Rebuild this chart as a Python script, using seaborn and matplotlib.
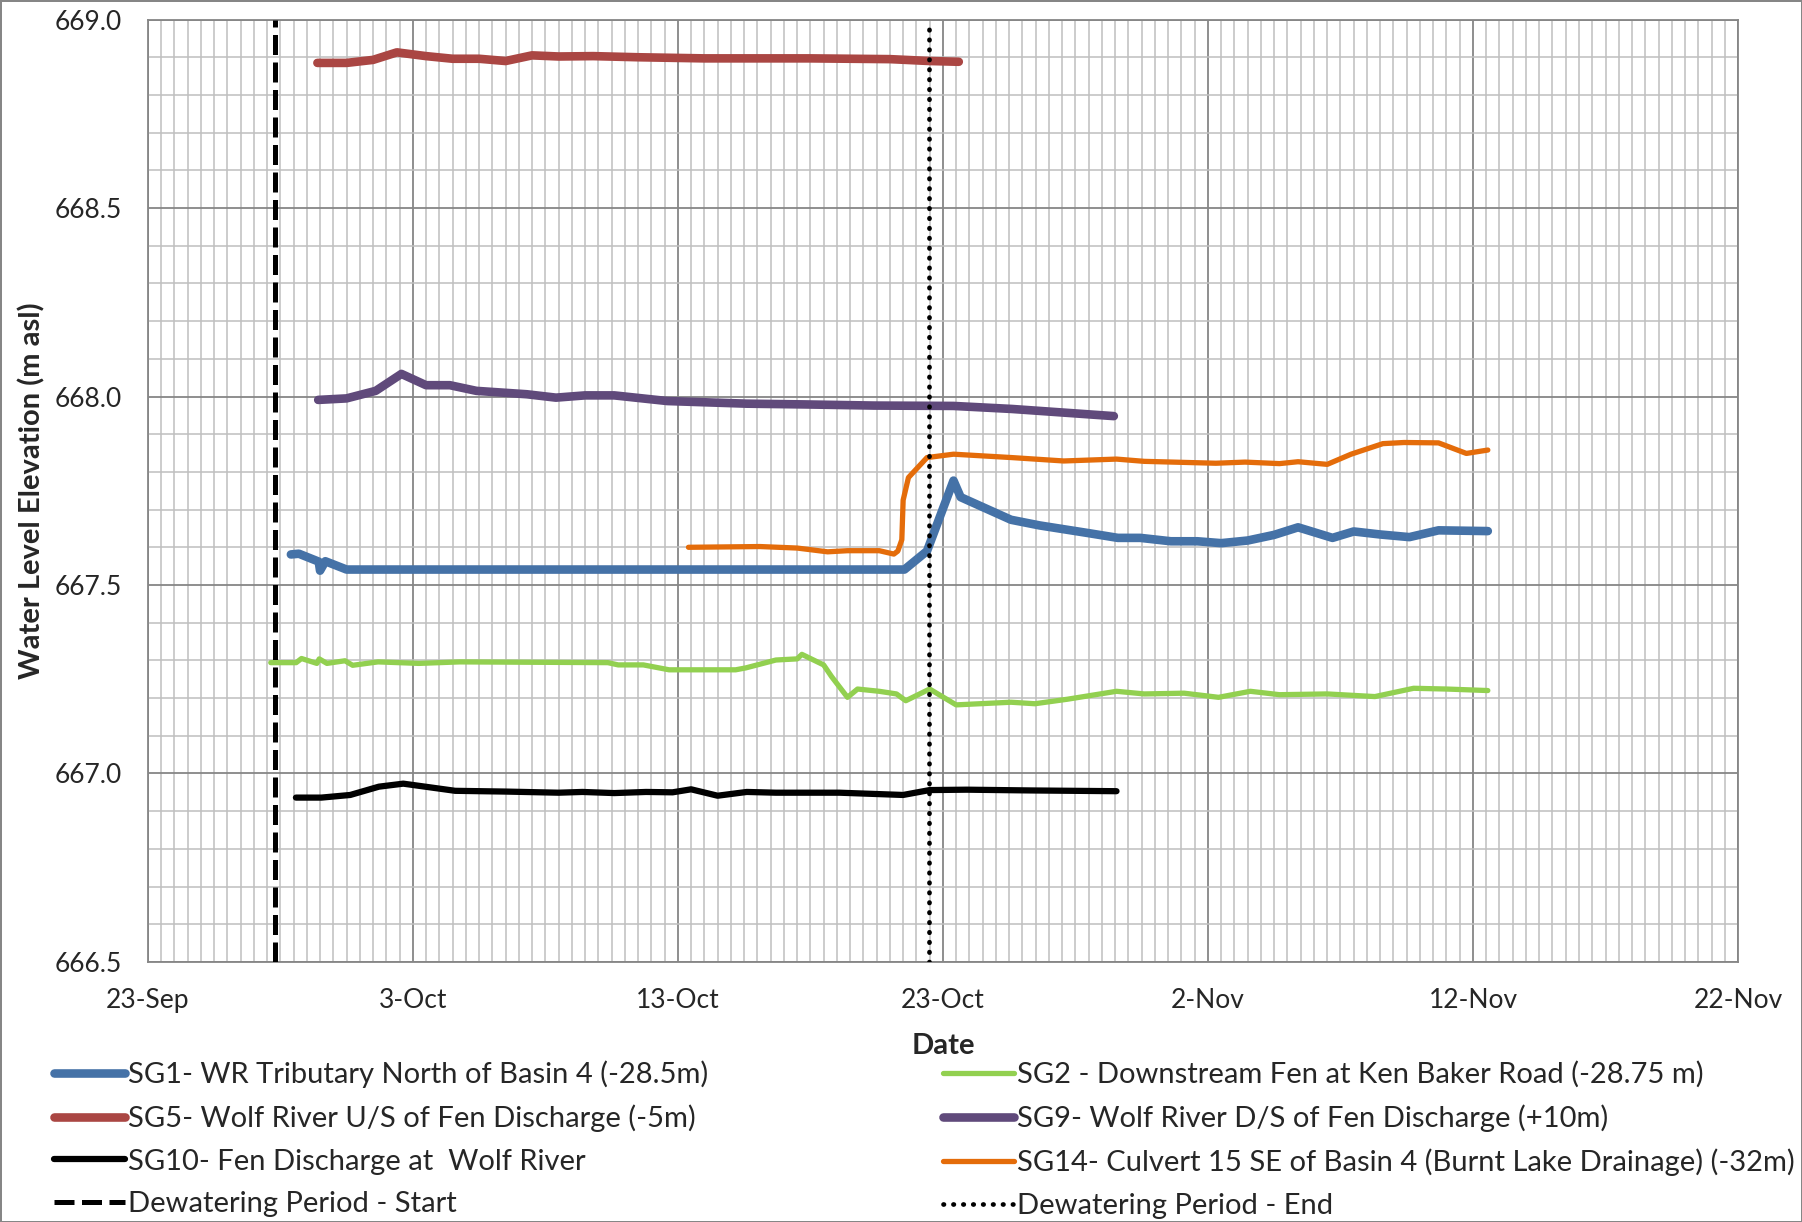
import numpy as np
import pandas as pd
import matplotlib
matplotlib.use("Agg")
import matplotlib.pyplot as plt
import matplotlib.dates as mdates
from matplotlib.ticker import FuncFormatter, MultipleLocator
import seaborn as sns

# ---------------------------------------------------------
# Data (days after 23-Sep, water level in m asl)
# ---------------------------------------------------------
sg1_days = [5.4, 5.7, 6.45, 6.5, 6.7, 7.5, 28.55, 29.4, 30.4, 30.67, 32.57, 33.65,
            35.46, 36.6, 37.45, 38.6, 39.6, 40.5, 41.5, 42.5, 43.4, 44.7, 45.5,
            46.5, 47.6, 48.7, 50.56]
sg1_vals = [667.581, 667.583, 667.562, 667.538, 667.563, 667.541, 667.541, 667.59,
            667.777, 667.733, 667.673, 667.658, 667.638, 667.625, 667.625, 667.616,
            667.616, 667.611, 667.618, 667.633, 667.653, 667.625, 667.642, 667.634,
            667.627, 667.645, 667.643]

sg2_days = [4.64, 5.6, 5.8, 6.38, 6.47, 6.76, 7.44, 7.73, 8.69, 10.23, 11.77, 17.36,
            17.75, 18.7, 19.67, 22.18, 22.56, 23.7, 24.5, 24.68, 25.5, 25.8, 26.4,
            26.78, 27.6, 28.25, 28.6, 29.5, 30.5, 32.57, 33.47, 34.7, 36.55, 37.6,
            39.1, 40.4, 41.6, 42.7, 44.5, 46.3, 47.76, 49.0, 50.56]
sg2_vals = [667.294, 667.294, 667.305, 667.292, 667.304, 667.292, 667.299, 667.287,
            667.296, 667.292, 667.296, 667.294, 667.288, 667.288, 667.275, 667.275,
            667.28, 667.301, 667.304, 667.316, 667.288, 667.257, 667.202, 667.224,
            667.218, 667.211, 667.193, 667.224, 667.182, 667.189, 667.185, 667.197,
            667.218, 667.211, 667.213, 667.202, 667.218, 667.209, 667.211, 667.204,
            667.226, 667.224, 667.220]

sg5_days = [6.4, 7.5, 8.5, 9.4, 10.5, 11.5, 12.5, 13.5, 14.5, 15.5, 16.8, 18.5,
            21.0, 25.0, 28.0, 29.5, 30.6]
sg5_vals = [668.885, 668.885, 668.893, 668.913, 668.903, 668.896, 668.896, 668.890,
            668.905, 668.902, 668.903, 668.900, 668.897, 668.897, 668.895, 668.890,
            668.888]

sg9_days = [6.43, 7.5, 8.6, 9.57, 10.5, 11.4, 12.4, 14.3, 15.4, 16.5, 17.6, 19.6,
            22.6, 24.8, 27.4, 30.4, 32.6, 36.45]
sg9_vals = [667.991, 667.995, 668.015, 668.060, 668.030, 668.030, 668.015, 668.006,
            667.997, 668.003, 668.003, 667.988, 667.981, 667.979, 667.976, 667.975,
            667.967, 667.948]

sg10_days = [5.59, 6.55, 7.64, 8.72, 9.64, 11.6, 13.5, 15.5, 16.4, 17.6, 18.8, 19.8,
             20.5, 21.5, 22.6, 23.7, 26.1, 28.5, 29.5, 30.9, 33.3, 36.55]
sg10_vals = [666.936, 666.936, 666.943, 666.965, 666.973, 666.954, 666.952, 666.949,
             666.951, 666.948, 666.951, 666.950, 666.958, 666.941, 666.951, 666.949,
             666.949, 666.943, 666.956, 666.957, 666.955, 666.953]

sg14_days = [20.4, 23.1, 24.5, 25.65, 26.4, 27.6, 28.15, 28.3, 28.45, 28.5, 28.7,
             29.4, 30.4, 32.6, 34.56, 36.55, 37.6, 40.3, 41.4, 42.7, 43.4, 44.5,
             45.4, 46.6, 47.4, 48.7, 49.75, 50.56]
sg14_vals = [667.600, 667.602, 667.598, 667.588, 667.591, 667.591, 667.582, 667.590,
             667.62, 667.725, 667.785, 667.838, 667.847, 667.838, 667.829, 667.834,
             667.828, 667.823, 667.826, 667.822, 667.827, 667.820, 667.847, 667.875,
             667.878, 667.877, 667.849, 667.858]

dewater_start = 4.8
dewater_end = 29.48

labels = {
    "SG1": "SG1- WR Tributary North of Basin 4 (-28.5m)",
    "SG2": "SG2 - Downstream Fen at Ken Baker Road (-28.75 m)",
    "SG5": "SG5- Wolf River U/S of Fen Discharge (-5m)",
    "SG9": "SG9- Wolf River D/S of Fen Discharge (+10m)",
    "SG10": "SG10- Fen Discharge at  Wolf River",
    "SG14": "SG14- Culvert 15 SE of Basin 4 (Burnt Lake Drainage) (-32m)",
}

x_ticks_days = [0, 10, 20, 30, 40, 50, 60]

# ---------------------------------------------------------
# Build long table
# ---------------------------------------------------------
t0 = pd.Timestamp("2013-09-23")


def to_dates(days):
    return t0 + pd.to_timedelta(np.array(days), unit="D")


series = {
    "SG1": (sg1_days, sg1_vals),
    "SG2": (sg2_days, sg2_vals),
    "SG5": (sg5_days, sg5_vals),
    "SG9": (sg9_days, sg9_vals),
    "SG10": (sg10_days, sg10_vals),
    "SG14": (sg14_days, sg14_vals),
}
frames = []
for key, (d, v) in series.items():
    frames.append(pd.DataFrame({"Date": to_dates(d), "Level": v, "Station": key}))
df = pd.concat(frames, ignore_index=True)

colors = {"SG1": "#4572A7", "SG2": "#92D050", "SG5": "#AA4643",
          "SG9": "#604A7B", "SG10": "#000000", "SG14": "#E46C0A"}
widths = {"SG1": 6.2, "SG2": 3.8, "SG5": 6.2, "SG9": 6.2, "SG10": 4.5, "SG14": 3.8}

# ---------------------------------------------------------
# Plot
# ---------------------------------------------------------
sns.set_style("white")
plt.rcParams["font.family"] = ["Lato", "DejaVu Sans"]

fig = plt.figure(figsize=(18.02, 12.22), dpi=100)
fig.patch.set_edgecolor("#868686")
fig.patch.set_linewidth(2)
ax = fig.add_axes([0.082, 0.2128, 0.8825, 0.7712])

for key in ["SG1", "SG5", "SG10", "SG2", "SG9", "SG14"]:
    sns.lineplot(data=df[df["Station"] == key], x="Date", y="Level", ax=ax,
                 color=colors[key], linewidth=widths[key], label=labels[key],
                 solid_capstyle="round", zorder=4)

ymin, ymax = 666.5, 669.0
ax.plot(to_dates([dewater_start] * 2), [ymin, ymax], color="black", lw=3.6,
        linestyle=(0, (4.0, 1.5)), label="Dewatering Period - Start", zorder=5)
ax.plot(to_dates([dewater_end] * 2), [ymin, ymax], color="black", lw=3.4,
        linestyle=(0, (0.1, 2.0)), dash_capstyle="round",
        label="Dewatering Period - End", zorder=5)

ax.set_xlim(to_dates([0])[0], to_dates([60])[0])
ax.set_ylim(ymin, ymax)

ax.set_xticks(to_dates(x_ticks_days))
ax.xaxis.set_minor_locator(mdates.HourLocator(byhour=[0, 12]))
ax.xaxis.set_major_formatter(FuncFormatter(
    lambda x, pos: f"{mdates.num2date(x).day}-{mdates.num2date(x).strftime('%b')}"))
ax.yaxis.set_major_locator(MultipleLocator(0.5))
ax.yaxis.set_minor_locator(MultipleLocator(0.1))
ax.yaxis.set_major_formatter(FuncFormatter(lambda y, pos: f"{y:.1f}"))

ax.grid(which="minor", color="#BFBFBF", linewidth=1.1, zorder=0)
ax.grid(which="major", color="#868686", linewidth=1.3, zorder=0)
ax.set_axisbelow(True)
for s in ax.spines.values():
    s.set_color("#868686")
    s.set_linewidth(1.3)

ax.tick_params(axis="both", which="major", direction="out", length=7,
               color="#868686", labelsize=19, pad=12)
ax.tick_params(axis="both", which="minor", length=0)

ax.set_xlabel("Date", fontsize=21, fontweight="bold", labelpad=14)
ax.set_ylabel("Water Level Elevation (m asl)", fontsize=21, fontweight="bold", labelpad=6)

h, l = ax.get_legend_handles_labels()
ax.get_legend().remove()
lookup = dict(zip(l, h))
names = [labels["SG1"], labels["SG5"], labels["SG10"], "Dewatering Period - Start",
         labels["SG2"], labels["SG9"], labels["SG14"], "Dewatering Period - End"]
leg = fig.legend([lookup[n] for n in names], names, ncol=2, loc="upper left",
                 bbox_to_anchor=(0.0235, 0.142), frameon=False, fontsize=21,
                 handlelength=2.45, handletextpad=0.1, labelspacing=0.57,
                 columnspacing=8.02, borderaxespad=0)

fig.savefig("out.png", dpi=100)
